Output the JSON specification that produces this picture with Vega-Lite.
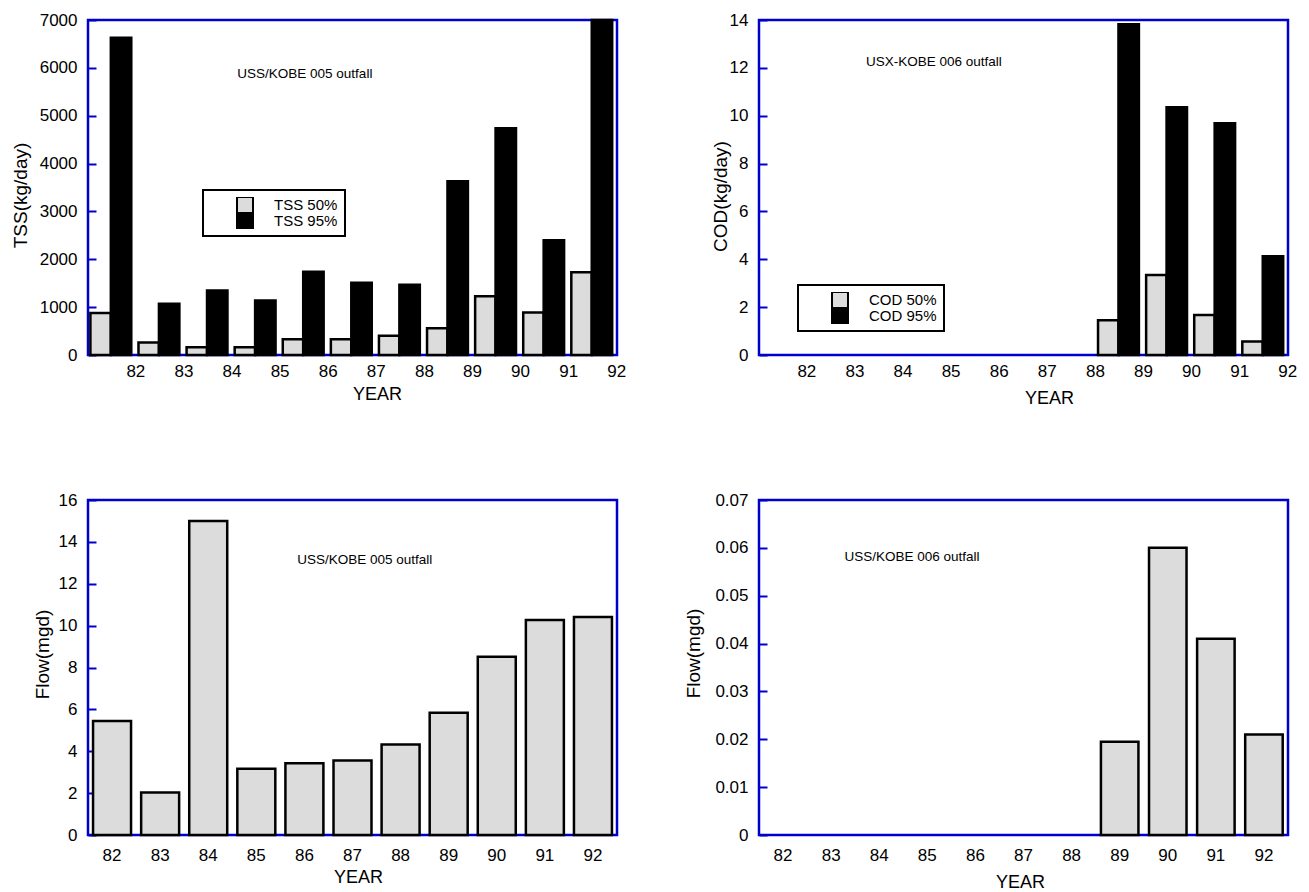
{
  "$schema": "https://vega.github.io/schema/vega-lite/v6.json",
  "autosize": {"type": "pad"},
  "padding": {"left": 9, "top": 9, "right": 5, "bottom": 5},
  "background": "white",
  "config": {
    "view": {"stroke": "#0000cc", "strokeWidth": 2.5},
    "font": "Liberation Sans",
    "axis": {"grid": false, "labelFont": "Liberation Sans", "labelFontSize": 17, "labelColor": "black", "titleFont": "Liberation Sans", "titleFontWeight": "normal", "titleColor": "black"},
    "axisX": {"domain": false, "ticks": false, "labelAngle": 0, "titleFontSize": 18, "titleBaseline": "middle", "titleAlign": "center"},
    "axisY": {"domain": false, "ticks": true, "tickColor": "#0000cc", "tickWidth": 2, "tickSize": -8, "labelPadding": 19, "titleFontSize": 19, "titleBaseline": "middle", "titleAlign": "center", "titleAngle": -90},
    "legend": {"labelFont": "Liberation Sans", "labelFontSize": 15, "labelColor": "black", "symbolType": "square", "symbolSize": 256, "symbolStrokeColor": "black", "symbolStrokeWidth": 2, "rowPadding": 0, "clipHeight": 16, "padding": 7, "strokeColor": "black", "fillColor": "white", "symbolOffset": 26, "labelOffset": 20, "labelLimit": 200}
  },
  "datasets": {
    "tss": [
      {"year": 82, "series": "TSS 50%", "value": 880}, {"year": 82, "series": "TSS 95%", "value": 6630},
      {"year": 83, "series": "TSS 50%", "value": 260}, {"year": 83, "series": "TSS 95%", "value": 1070},
      {"year": 84, "series": "TSS 50%", "value": 160}, {"year": 84, "series": "TSS 95%", "value": 1350},
      {"year": 85, "series": "TSS 50%", "value": 160}, {"year": 85, "series": "TSS 95%", "value": 1140},
      {"year": 86, "series": "TSS 50%", "value": 330}, {"year": 86, "series": "TSS 95%", "value": 1740},
      {"year": 87, "series": "TSS 50%", "value": 330}, {"year": 87, "series": "TSS 95%", "value": 1510},
      {"year": 88, "series": "TSS 50%", "value": 400}, {"year": 88, "series": "TSS 95%", "value": 1470},
      {"year": 89, "series": "TSS 50%", "value": 560}, {"year": 89, "series": "TSS 95%", "value": 3630},
      {"year": 90, "series": "TSS 50%", "value": 1230}, {"year": 90, "series": "TSS 95%", "value": 4740},
      {"year": 91, "series": "TSS 50%", "value": 890}, {"year": 91, "series": "TSS 95%", "value": 2400},
      {"year": 92, "series": "TSS 50%", "value": 1730}, {"year": 92, "series": "TSS 95%", "value": 7000}
    ],
    "cod": [
      {"year": 89, "series": "COD 50%", "value": 1.45}, {"year": 89, "series": "COD 95%", "value": 13.82},
      {"year": 90, "series": "COD 50%", "value": 3.34}, {"year": 90, "series": "COD 95%", "value": 10.35},
      {"year": 91, "series": "COD 50%", "value": 1.67}, {"year": 91, "series": "COD 95%", "value": 9.69},
      {"year": 92, "series": "COD 50%", "value": 0.56}, {"year": 92, "series": "COD 95%", "value": 4.13}
    ],
    "flow5": [
      {"year": 82, "flow": 5.44}, {"year": 83, "flow": 2.03}, {"year": 84, "flow": 15.0},
      {"year": 85, "flow": 3.17}, {"year": 86, "flow": 3.43}, {"year": 87, "flow": 3.56},
      {"year": 88, "flow": 4.32}, {"year": 89, "flow": 5.84}, {"year": 90, "flow": 8.51},
      {"year": 91, "flow": 10.27}, {"year": 92, "flow": 10.41}
    ],
    "flow6": [
      {"year": 89, "flow": 0.0195}, {"year": 90, "flow": 0.06}, {"year": 91, "flow": 0.041}, {"year": 92, "flow": 0.021}
    ]
  },
  "columns": 2,
  "bounds": "flush",
  "spacing": {"row": 145, "column": 142},
  "resolve": {"scale": {"x": "independent", "y": "independent", "xOffset": "independent", "color": "independent"}},
  "concat": [
    {
      "width": 529, "height": 335,
      "layer": [
        {
          "data": {"name": "tss"},
          "mark": {"type": "bar", "stroke": "black", "strokeWidth": 2.5},
          "encoding": {
            "x": {"field": "year", "type": "ordinal", "title": "YEAR",
              "scale": {"type": "band", "domain": [82, 83, 84, 85, 86, 87, 88, 89, 90, 91, 92], "paddingInner": 0.15, "paddingOuter": 0.075, "align": 0.333},
              "axis": {"labelOffset": 25, "labelPadding": 8, "titleX": 289, "titleY": 39}},
            "xOffset": {"field": "series", "type": "nominal", "scale": {"domain": ["TSS 50%", "TSS 95%"], "paddingInner": 0, "paddingOuter": 0}},
            "y": {"field": "value", "type": "quantitative", "title": "TSS(kg/day)",
              "scale": {"domain": [0, 7000], "nice": false},
              "axis": {"values": [0, 1000, 2000, 3000, 4000, 5000, 6000, 7000], "format": "d", "titleX": -68, "titleY": 175}},
            "color": {"field": "series", "type": "nominal",
              "scale": {"domain": ["TSS 50%", "TSS 95%"], "range": ["#dcdcdc", "#000000"]},
              "legend": {"title": null, "orient": "none", "legendX": 115, "legendY": 170, "encode": {"legend": {"update": {"strokeWidth": {"value": 2}}}}}}
          }
        },
        {
          "data": {"values": [{"label": "USS/KOBE 005 outfall", "year": 86, "value": 5870}]},
          "mark": {"type": "text", "font": "Liberation Sans", "fontSize": 13.5, "align": "center", "baseline": "middle", "color": "black"},
          "encoding": {
            "x": {"field": "year", "type": "ordinal", "title": "YEAR", "bandPosition": 0.54},
            "y": {"field": "value", "type": "quantitative", "title": "TSS(kg/day)"},
            "text": {"field": "label"}
          }
        }
      ]
    },
    {
      "width": 529, "height": 335,
      "layer": [
        {
          "data": {"name": "cod"},
          "mark": {"type": "bar", "stroke": "black", "strokeWidth": 2.5},
          "encoding": {
            "x": {"field": "year", "type": "ordinal", "title": "YEAR",
              "scale": {"type": "band", "domain": [82, 83, 84, 85, 86, 87, 88, 89, 90, 91, 92], "paddingInner": 0.15, "paddingOuter": 0.075, "align": 0.333},
              "axis": {"labelOffset": 25, "labelPadding": 8, "titleX": 290, "titleY": 43}},
            "xOffset": {"field": "series", "type": "nominal", "scale": {"domain": ["COD 50%", "COD 95%"], "paddingInner": 0, "paddingOuter": 0}},
            "y": {"field": "value", "type": "quantitative", "title": "COD(kg/day)",
              "scale": {"domain": [0, 14], "nice": false},
              "axis": {"values": [0, 2, 4, 6, 8, 10, 12, 14], "format": "d", "titleX": -39, "titleY": 176}},
            "color": {"field": "series", "type": "nominal",
              "scale": {"domain": ["COD 50%", "COD 95%"], "range": ["#dcdcdc", "#000000"]},
              "legend": {"title": null, "orient": "none", "legendX": 39, "legendY": 265, "encode": {"legend": {"update": {"strokeWidth": {"value": 2}}}}}}
          }
        },
        {
          "data": {"values": [{"label": "USX-KOBE 006 outfall", "year": 85, "value": 12.26}]},
          "mark": {"type": "text", "font": "Liberation Sans", "fontSize": 13.5, "align": "center", "baseline": "middle", "color": "black"},
          "encoding": {
            "x": {"field": "year", "type": "ordinal", "title": "YEAR", "bandPosition": 0.69},
            "y": {"field": "value", "type": "quantitative", "title": "COD(kg/day)"},
            "text": {"field": "label"}
          }
        }
      ]
    },
    {
      "width": 529, "height": 335,
      "layer": [
        {
          "data": {"name": "flow5"},
          "mark": {"type": "bar", "stroke": "black", "strokeWidth": 2.5, "fill": "#dcdcdc"},
          "encoding": {
            "x": {"field": "year", "type": "ordinal", "title": "YEAR",
              "scale": {"type": "band", "domain": [82, 83, 84, 85, 86, 87, 88, 89, 90, 91, 92], "paddingInner": 0.21, "paddingOuter": 0.105},
              "axis": {"labelPadding": 12.5, "titleX": 270, "titleY": 42}},
            "y": {"field": "flow", "type": "quantitative", "title": "Flow(mgd)",
              "scale": {"domain": [0, 16], "nice": false},
              "axis": {"values": [0, 2, 4, 6, 8, 10, 12, 14, 16], "format": "d", "titleX": -46, "titleY": 154}}
          }
        },
        {
          "data": {"values": [{"label": "USS/KOBE 005 outfall", "year": 87, "flow": 13.13}]},
          "mark": {"type": "text", "font": "Liberation Sans", "fontSize": 13.5, "align": "center", "baseline": "middle", "color": "black"},
          "encoding": {
            "x": {"field": "year", "type": "ordinal", "title": "YEAR", "bandPosition": 0.82},
            "y": {"field": "flow", "type": "quantitative", "title": "Flow(mgd)"},
            "text": {"field": "label"}
          }
        }
      ]
    },
    {
      "width": 529, "height": 335,
      "layer": [
        {
          "data": {"name": "flow6"},
          "mark": {"type": "bar", "stroke": "black", "strokeWidth": 2.5, "fill": "#dcdcdc"},
          "encoding": {
            "x": {"field": "year", "type": "ordinal", "title": "YEAR",
              "scale": {"type": "band", "domain": [82, 83, 84, 85, 86, 87, 88, 89, 90, 91, 92], "paddingInner": 0.22, "paddingOuter": 0.11},
              "axis": {"labelPadding": 12, "titleX": 261, "titleY": 47}},
            "y": {"field": "flow", "type": "quantitative", "title": "Flow(mgd)",
              "scale": {"domain": [0, 0.07], "nice": false},
              "axis": {"values": [0, 0.01, 0.02, 0.03, 0.04, 0.05, 0.06, 0.07], "format": "~g", "titleX": -66, "titleY": 153}}
          }
        },
        {
          "data": {"values": [{"label": "USS/KOBE 006 outfall", "year": 85, "flow": 0.0581}]},
          "mark": {"type": "text", "font": "Liberation Sans", "fontSize": 13.5, "align": "center", "baseline": "middle", "color": "black"},
          "encoding": {
            "x": {"field": "year", "type": "ordinal", "title": "YEAR", "bandPosition": 0.09},
            "y": {"field": "flow", "type": "quantitative", "title": "Flow(mgd)"},
            "text": {"field": "label"}
          }
        }
      ]
    }
  ]
}
